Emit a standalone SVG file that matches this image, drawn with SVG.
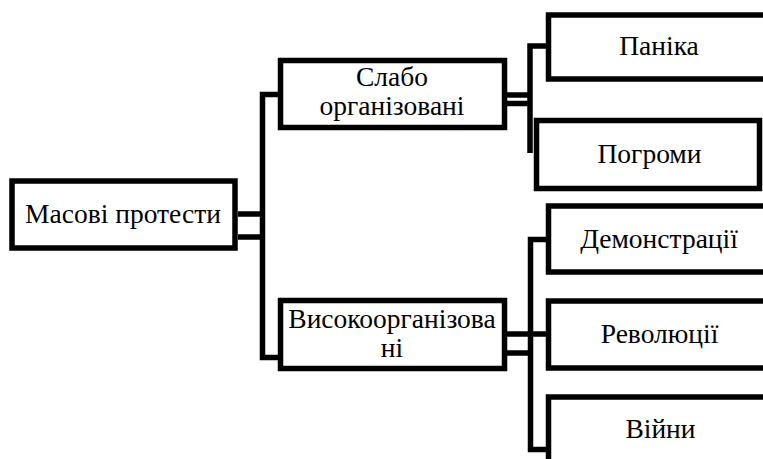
<svg xmlns="http://www.w3.org/2000/svg" width="763" height="459" viewBox="0 0 763 459">
<style>
.box{fill:#fff;stroke:#000;stroke-width:5.5}
.c{fill:none;stroke:#000;stroke-width:5.5;stroke-linejoin:miter}
.t{font-family:'Liberation Serif','Times New Roman','DejaVu Serif',serif;font-size:27.5px;fill:#000;text-anchor:middle}
</style>
<rect width="763" height="459" fill="#fff"/>
<g id="connectors">
<path class="c" d="M238 214H262.5M238 237H262.5"/>
<path class="c" d="M280 94.5H262.5V357.5H280"/>
<path class="c" d="M507 95H530M507 103.5H530"/>
<path class="c" d="M548 46H530V153"/>
<path class="c" d="M507 334H548M507 353H530"/>
<path class="c" d="M548 239.5H530.5V449.5H548"/>
</g>
<g id="n-main">
<rect class="box" x="12" y="181" width="223" height="67"/>
<text class="t" x="123" y="223">Масові протести</text>
</g>
<g id="n-slabo">
<rect class="box" x="280.5" y="60.5" width="224" height="67"/>
<text class="t" x="392" y="86">Слабо</text>
<text class="t" x="392" y="115">організовані</text>
</g>
<g id="n-vysoko">
<rect class="box" x="280.5" y="300.5" width="224" height="68"/>
<text class="t" x="392" y="328">Високоорганізова</text>
<text class="t" x="392" y="357">ні</text>
</g>
<g id="n-panika">
<rect class="box" x="548.5" y="15" width="300" height="64"/>
<text class="t" x="659" y="55">Паніка</text>
</g>
<g id="n-pogromy">
<rect class="box" x="536.5" y="120.5" width="223" height="68"/>
<text class="t" x="649.5" y="163">Погроми</text>
</g>
<g id="n-demo">
<rect class="box" x="548.5" y="206" width="300" height="66"/>
<text class="t" x="659" y="248">Демонстрації</text>
</g>
<g id="n-revol">
<rect class="box" x="548.5" y="301" width="300" height="67"/>
<text class="t" x="659.5" y="343">Революції</text>
</g>
<g id="n-viyny">
<rect class="box" x="548.5" y="397" width="300" height="100"/>
<text class="t" x="660.5" y="438">Війни</text>
</g>
</svg>
